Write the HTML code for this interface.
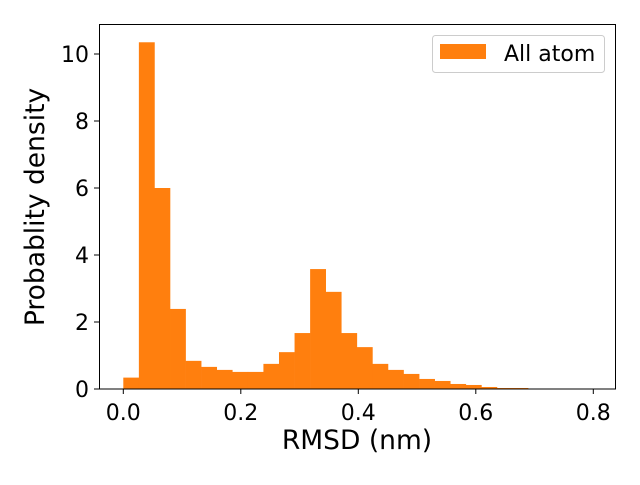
<!DOCTYPE html>
<html><head><meta charset="utf-8"><style>
body{margin:0;background:#fff;}
svg text{font-family:"DejaVu Sans","Liberation Sans",sans-serif;fill:#000;}
</style></head><body>
<svg width="640" height="480" viewBox="0 0 640 480">
<g id="bars"></g>
<rect x="99.5" y="24.5" width="516" height="364.5" fill="none" stroke="#000" stroke-width="1"/>
<g id="xticks"></g>
<g id="yticks"></g>
<text x="357" y="449" font-size="26.5" text-anchor="middle">RMSD (nm)</text>
<text transform="translate(44,207) rotate(-90)" font-size="26.5" text-anchor="middle">Probablity density</text>
<g>
<rect x="432.5" y="35.5" width="172" height="37" rx="3" fill="#fff" stroke="#ccc"/>
<rect x="440" y="44" width="46" height="15" fill="#ff7f0e"/>
<text x="504" y="61" font-size="22">All atom</text>
</g>
</svg>
<script>
const binStart = 0.0;
const binWidth = 0.0265;
const densities = [0.34,10.35,6.0,2.39,0.84,0.66,0.57,0.51,0.51,0.75,1.1,1.67,3.58,2.9,1.67,1.25,0.75,0.57,0.45,0.3,0.24,0.15,0.12,0.06,0.03,0.03];
const xTicks = [0.0,0.2,0.4,0.6,0.8];
const xTickLabels = ["0.0","0.2","0.4","0.6","0.8"];
const yTicks = [0,2,4,6,8,10];
const yTickLabels = ["0","2","4","6","8","10"];
const NS="http://www.w3.org/2000/svg";
function xs(v){return 123.3+v*587.5;}
function ys(v){return 389-v*33.5;}
const bars=document.getElementById('bars');
densities.forEach((d,i)=>{
 const x0=xs(binStart+i*binWidth), x1=xs(binStart+(i+1)*binWidth);
 const r=document.createElementNS(NS,'rect');
 r.setAttribute('x',x0);r.setAttribute('width',x1-x0+0.3);
 r.setAttribute('y',ys(d));r.setAttribute('height',ys(0)-ys(d));
 r.setAttribute('fill','#ff7f0e');
 
 
 bars.appendChild(r);
});
const xg=document.getElementById('xticks');
xTicks.forEach((t,i)=>{
 const l=document.createElementNS(NS,'line');
 l.setAttribute('x1',xs(t));l.setAttribute('x2',xs(t));l.setAttribute('y1',389);l.setAttribute('y2',394);l.setAttribute('stroke','#000');
 
 
 xg.appendChild(l);
 const tx=document.createElementNS(NS,'text');
 tx.setAttribute('x',xs(t));tx.setAttribute('y',420);tx.setAttribute('font-size','22');tx.setAttribute('text-anchor','middle');
 tx.textContent=xTickLabels[i];
 
 
 xg.appendChild(tx);
});
const yg=document.getElementById('yticks');
yTicks.forEach((t,i)=>{
 const l=document.createElementNS(NS,'line');
 l.setAttribute('x1',94);l.setAttribute('x2',99.5);l.setAttribute('y1',ys(t));l.setAttribute('y2',ys(t));l.setAttribute('stroke','#000');
 
 
 yg.appendChild(l);
 const tx=document.createElementNS(NS,'text');
 tx.setAttribute('x',89);tx.setAttribute('y',ys(t)+8);tx.setAttribute('font-size','22');tx.setAttribute('text-anchor','end');
 tx.textContent=yTickLabels[i];
 
 
 yg.appendChild(tx);
});
</script>
</body></html>
